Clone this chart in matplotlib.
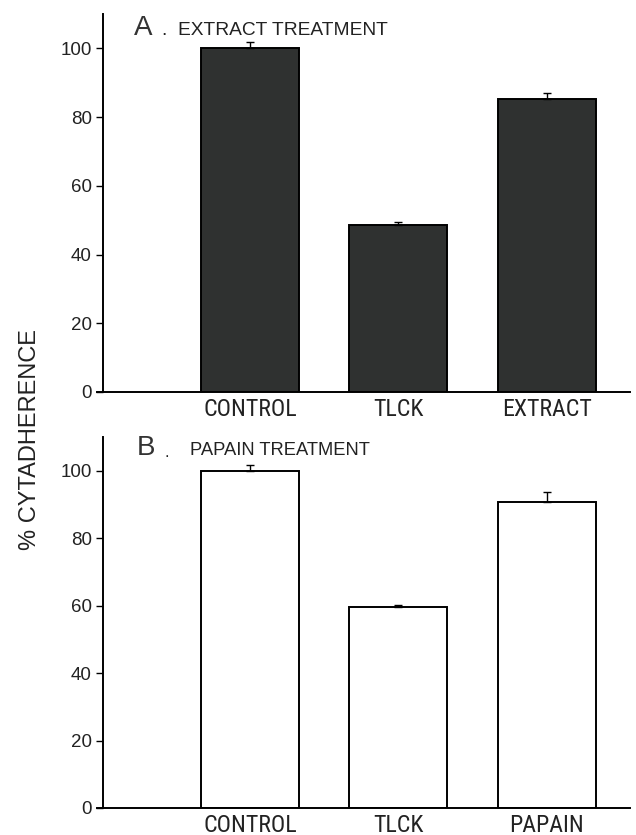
import matplotlib
matplotlib.use("Agg")
import matplotlib.pyplot as plt
from matplotlib import font_manager
from matplotlib.font_manager import FontProperties

# Find a narrow / condensed regular sans font if one is installed
def find_narrow():
    prefs = ['LiberationSansNarrow-Regular', 'RobotoCondensed-Regular', 'OpenSans_Condensed-Regular',
             'OpenSansCondensed', 'DejaVuSansCondensed.ttf', 'Roboto_Condensed']
    files = [f.fname for f in font_manager.fontManager.ttflist]
    for p in prefs:
        for fn in files:
            base = fn.split('/')[-1]
            if p.lower() in base.lower() and not any(k in base for k in ('Bold', 'Oblique', 'Italic', 'Light', 'Thin', 'Medium', 'Black', 'Semi')):
                return fn
    for fn in files:
        base = fn.split('/')[-1]
        if ('Narrow' in base or 'Condensed' in base) and not any(k in base for k in ('Bold', 'Oblique', 'Italic')):
            return fn
    return None

narrow_path = find_narrow()

def fp_narrow(size):
    if narrow_path:
        return FontProperties(fname=narrow_path, size=size)
    return FontProperties(family=['Liberation Sans', 'DejaVu Sans'], size=size * 0.85)

def fp_reg(size, weight='normal', family=('Liberation Sans', 'DejaVu Sans')):
    return FontProperties(family=list(family), size=size, weight=weight)

plt.rcParams['font.family'] = ['Liberation Sans', 'DejaVu Sans']

# Data
cats_a = ["CONTROL", "TLCK", "EXTRACT"]
vals_a = [100.0, 48.6, 85.3]
err_a = [1.8, 1.0, 1.8]

cats_b = ["CONTROL", "TLCK", "PAPAIN"]
vals_b = [100.0, 59.6, 90.7]
err_b = [1.7, 0.6, 3.1]

yticks = [0, 20, 40, 60, 80, 100]

fig = plt.figure(figsize=(6.36, 8.35), dpi=100)
W, H = 636, 835
INK = '#222222'

def make_ax(bottom_px, top_px):
    left, right = 97, 630
    return fig.add_axes([left / W, (H - bottom_px) / H, (right - left) / W, (bottom_px - top_px) / H])

ax_a = make_ax(392, 14)
ax_b = make_ax(808, 437)

def style(ax, cats, vals, errs, face):
    x = list(range(len(cats)))
    ax.bar(x, vals, width=0.66, color=face, edgecolor='black', linewidth=1.4, zorder=2)
    ax.errorbar(x, vals, yerr=[[0] * len(errs), errs], fmt='none', ecolor='black',
                elinewidth=1.0, capsize=3, capthick=1.0, zorder=3)
    ax.set_xlim(-1.03, 2.56)
    ax.set_ylim(0, 110)
    ax.spines['top'].set_visible(False)
    ax.spines['right'].set_visible(False)
    ax.spines['left'].set_position(('data', -0.99))
    for s in ('left', 'bottom'):
        ax.spines[s].set_linewidth(1.4)
    ax.set_yticks(yticks)
    ax.set_yticklabels([str(t) for t in yticks], fontproperties=fp_reg(13.5), color=INK)
    ax.tick_params(axis='y', direction='out', length=5, width=1.0, pad=3)
    ax.set_xticks(x)
    ax.set_xticklabels(cats, fontproperties=fp_narrow(17.2), color=INK)
    ax.tick_params(axis='x', length=0, pad=4)
    ax.patch.set_alpha(0)

style(ax_a, cats_a, vals_a, err_a, '#2f3130')
style(ax_b, cats_b, vals_b, err_b, 'white')

# Panel titles
fig.text(134 / W, (H - 35) / H, "A", fontproperties=fp_reg(20), color='#333333')
fig.text(161 / W, (H - 35) / H, ".", fontproperties=fp_reg(14), color=INK)
fig.text(178 / W, (H - 35) / H, "EXTRACT TREATMENT", fontproperties=fp_reg(13.8), color=INK)

fig.text(137 / W, (H - 455) / H, "B", fontproperties=fp_reg(20), color='#333333')
fig.text(165 / W, (H - 457) / H, ".", fontproperties=fp_reg(12), color=INK)
fig.text(190 / W, (H - 455) / H, "PAPAIN TREATMENT", fontproperties=fp_reg(13.2), color=INK)

fig.text(30 / W, (H - 440) / H, "% CYTADHERENCE", rotation=90, ha='center', va='center',
         fontproperties=fp_reg(17), color=INK)

fig.savefig("out.png", dpi=100, facecolor='white')
